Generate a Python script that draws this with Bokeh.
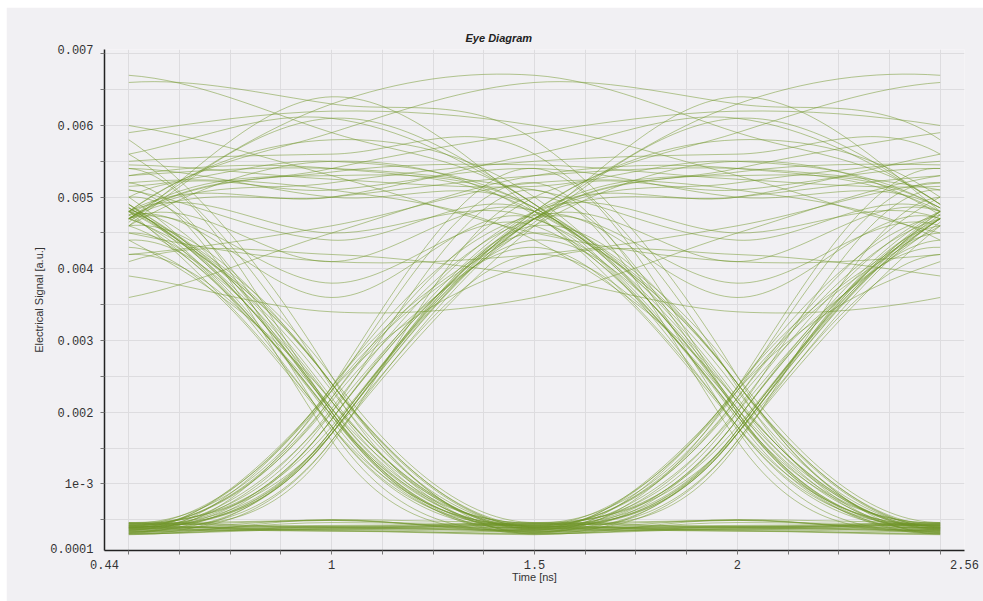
import numpy as np
from bokeh.plotting import figure
from bokeh.models import FixedTicker, Range1d
from bokeh.embed import file_html
from bokeh.resources import INLINE

# Received electrical signal, sampled at every bit centre and every bit boundary.
# Levels are in units of 1e-3 a.u.; each line holds a run of ones then a run of zeros.
centre_levels = [
    4.8, 0.40,
    4.7, 5.5, 5.6, 0.33, 0.44,
    4.4, 0.38,
    4.6, 4.9, 0.30, 0.42, 0.36,
    4.7, 5.3, 5.1, 4.8, 0.45,
    5.2, 0.34, 0.39,
    4.7, 4.6, 0.31, 0.43,
    4.8, 6.6, 5.8, 0.37,
    4.3, 0.41, 0.29, 0.46, 0.35,
    4.1, 3.9, 3.6, 5.3, 4.8, 0.40,
    4.75, 4.85, 0.32, 0.44,
    5.0, 0.38,
    4.7, 6.7, 4.9, 0.36,
    4.8, 4.7, 0.42, 0.30, 0.39,
    4.5, 0.45, 0.34,
    4.7, 5.45, 5.15, 4.85, 0.41,
    4.65, 4.8, 0.37, 0.31,
    5.4, 0.43,
    4.7, 4.8, 0.38, 0.33,
    4.8, 5.6, 4.9, 0.46,
    4.2, 0.40, 0.35, 0.42,
    4.6, 4.75, 0.30,
    4.7, 5.9, 6.0, 4.5, 4.2, 5.2, 4.4, 0.39, 0.44,
    5.1, 0.36, 0.32,
    4.75, 4.7, 0.41,
    5.0, 5.4, 4.85, 0.38, 0.45, 0.34,
    4.6, 0.40,
    4.8, 5.0, 0.37, 0.43,
]

edge_levels = [
    2.0, 1.7,
    5.2, 5.6, 2.35, 0.39, 1.8,
    2.15, 1.6,
    6.1, 2.4, 0.37, 0.49, 1.9,
    5.0, 5.4, 4.4, 2.05, 2.3,
    1.75, 0.36, 2.2,
    3.8, 1.95, 0.38, 1.7,
    5.9, 6.3, 2.5, 2.0,
    1.8, 0.34, 0.50, 0.40, 2.3,
    4.2, 3.4, 4.5, 5.4, 2.4, 1.75,
    5.3, 2.15, 0.46, 1.55,
    2.0, 2.35,
    6.3, 5.9, 1.9, 2.05,
    4.5, 2.4, 0.35, 0.40, 1.7,
    1.95, 0.49, 1.6,
    5.35, 5.25, 5.5, 2.3, 2.15,
    6.4, 1.8, 0.34, 2.35,
    2.0, 1.75,
    4.1, 2.2, 0.36, 1.9,
    5.0, 6.1, 2.5, 1.7,
    2.05, 0.38, 0.40, 2.3,
    5.5, 1.95, 1.75,
    5.4, 6.2, 5.3, 4.1, 4.6, 5.1, 2.15, 0.42, 2.0,
    1.6, 0.50, 2.35,
    3.6, 1.8, 2.2,
    5.1, 5.0, 2.05, 0.41, 0.39, 1.7,
    2.4, 1.9,
    5.8, 2.0, 0.40,
]

LEVEL_UNIT = 1e-3      # a.u. per listed unit
BIT_PERIOD = 1.0       # ns
FIRST_CENTRE = 0.5     # ns, where each eye trace starts
EYE_BITS = 2           # bit periods per trace

x_tick_values = [0.44, 1.0, 1.5, 2.0, 2.56]
x_tick_labels = ["0.44", "1", "1.5", "2", "2.56"]
y_tick_values = [0.0001, 0.001, 0.002, 0.003, 0.004, 0.005, 0.006, 0.00706]
y_tick_labels = ["0.0001", "1e-3", "0.002", "0.003", "0.004", "0.005", "0.006", "0.007"]

assert len(edge_levels) == len(centre_levels) - 1

# Interleave centres and boundaries into one half-bit sampled sequence
c = np.asarray(centre_levels, dtype=float)
e = np.asarray(edge_levels, dtype=float)
s = np.empty(c.size + e.size)
s[0::2] = c
s[1::2] = e
half = BIT_PERIOD / 2

# Hermite tangents for the Bezier pieces: flat on the zero level,
# Catmull-Rom elsewhere, sharper through the 0/1 transitions
ZERO_LIMIT = 1.0
EDGE_GAIN = 1.7
slope = np.zeros_like(s)
for j in range(1, s.size - 1):
    if s[j] < ZERO_LIMIT:
        continue
    slope[j] = (s[j + 1] - s[j - 1]) / (2 * half)
    if (s[j - 1] < ZERO_LIMIT) != (s[j + 1] < ZERO_LIMIT):
        slope[j] *= EDGE_GAIN

# Fold the sequence into overlapping two-bit windows
x0, y0, x1, y1, cx0, cy0, cx1, cy1 = ([] for _ in range(8))
for w in range(c.size - EYE_BITS):
    for j in range(2 * w, 2 * w + 2 * EYE_BITS):
        t0 = FIRST_CENTRE + (j - 2 * w) * half
        t1 = t0 + half
        x0.append(t0)
        x1.append(t1)
        cx0.append(t0 + half / 3)
        cx1.append(t1 - half / 3)
        y0.append(s[j] * LEVEL_UNIT)
        y1.append(s[j + 1] * LEVEL_UNIT)
        cy0.append((s[j] + slope[j] * half / 3) * LEVEL_UNIT)
        cy1.append((s[j + 1] - slope[j + 1] * half / 3) * LEVEL_UNIT)

BG = "#f1f0f3"
GRID = "#dddcdf"

p = figure(
    width=977, height=594,
    output_backend="svg", toolbar_location=None,
    x_range=Range1d(0.44, 2.56), y_range=Range1d(0.00007, 0.00706),
    min_border_left=98, min_border_right=19, min_border_top=42, min_border_bottom=51,
    background_fill_color=BG, border_fill_color=BG, outline_line_color=None,
    title="Eye Diagram",
)
p.margin = (7, 0, 0, 6)

p.bezier(x0=x0, y0=y0, x1=x1, y1=y1, cx0=cx0, cy0=cy0, cx1=cx1, cy1=cy1,
         line_color="#6f9628", line_alpha=0.5, line_width=1)

x_ticker = FixedTicker(ticks=x_tick_values,
                       minor_ticks=list(np.arange(0.5, 2.5001, 0.125)))
y_ticker = FixedTicker(ticks=y_tick_values,
                       minor_ticks=list(np.arange(0.0005, 0.00701, 0.0005)))
p.xaxis.ticker = x_ticker
p.yaxis.ticker = y_ticker
p.xgrid.ticker = x_ticker
p.ygrid.ticker = y_ticker
p.xaxis.major_label_overrides = dict(zip(x_tick_values, x_tick_labels))
p.yaxis.major_label_overrides = dict(zip(y_tick_values, y_tick_labels))

for g in (p.xgrid, p.ygrid):
    g.grid_line_color = None
    g.minor_grid_line_color = GRID
    g.minor_grid_line_width = 1

for ax in (p.xaxis, p.yaxis):
    ax.axis_line_color = "#222222"
    ax.axis_line_width = 1.5
    ax.major_tick_out = 0
    ax.major_tick_in = 0
    ax.minor_tick_out = 4
    ax.minor_tick_in = 0
    ax.minor_tick_line_color = "#777777"
    ax.major_label_text_font = "Liberation Mono"
    ax.major_label_text_font_size = "12px"
    ax.major_label_text_color = "#333333"
    ax.axis_label_text_font = "Liberation Sans"
    ax.axis_label_text_font_size = "11px"
    ax.axis_label_text_font_style = "normal"
    ax.axis_label_text_color = "#333333"

p.xaxis.axis_label = "Time [ns]"
p.yaxis.axis_label = "Electrical Signal [a.u.]"
p.xaxis.major_label_standoff = 5
p.yaxis.major_label_standoff = 7
p.xaxis.axis_label_standoff = -1
p.yaxis.axis_label_standoff = 2

p.title.align = "left"
p.title.offset = 361
p.title.standoff = 11
p.title.text_font = "Liberation Sans"
p.title.text_font_style = "bold italic"
p.title.text_font_size = "11px"
p.title.text_color = "#222222"

open("out.html", "w").write(file_html(p, INLINE))
